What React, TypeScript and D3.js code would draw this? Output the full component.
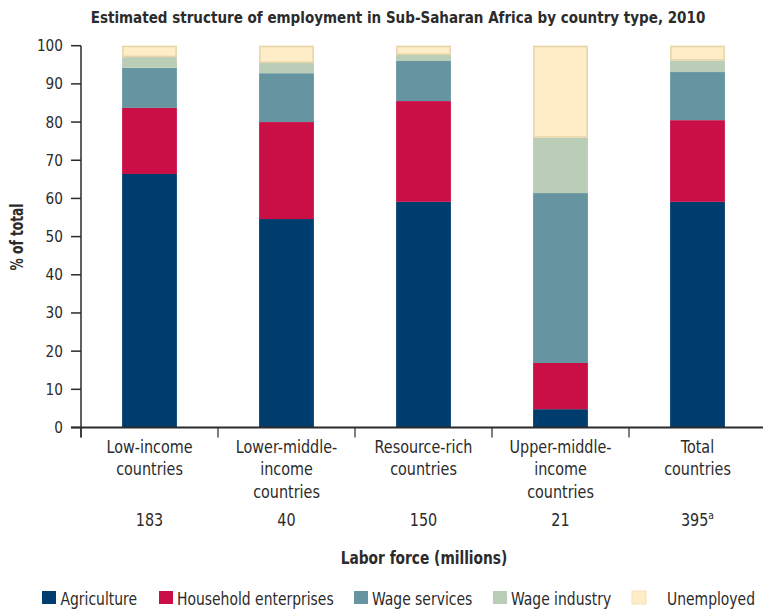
import React from "react";
import * as d3 from "d3";

const categories = ["Low-income", "Lower-middle-income", "Resource-rich", "Upper-middle-income", "Total"];
const categoryLabels = [
  ["Low-income", "countries"],
  ["Lower-middle-", "income", "countries"],
  ["Resource-rich", "countries"],
  ["Upper-middle-", "income", "countries"],
  ["Total", "countries"],
];
const laborForce = ["183", "40", "150", "21", "395"];
const laborSup = ["", "", "", "", "a"];

const seriesNames = ["Agriculture", "Household enterprises", "Wage services", "Wage industry", "Unemployed"];
const agriculture = [66.4, 54.6, 59.1, 4.8, 59.1];
const household = [17.3, 25.4, 26.4, 12.1, 21.4];
const wageServices = [10.5, 12.8, 10.5, 44.5, 12.6];
const wageIndustry = [2.8, 2.7, 1.6, 14.5, 3.0];
const unemployed = [3.0, 4.5, 2.4, 24.1, 3.9];
const yTicks = [0, 10, 20, 30, 40, 50, 60, 70, 80, 90, 100];

const colors = ["#003d6f", "#c90f45", "#6695a1", "#b9cdb7", "#feedc7"];
const FONT = "'DejaVu Sans Condensed', 'Liberation Sans Narrow', 'Liberation Sans', sans-serif";
const TEXT = "#2b2b2b";

function T(props: {
  x: number;
  y: number;
  size: number;
  sx?: number;
  anchor?: string;
  bold?: boolean;
  rotate?: number;
  children: any;
}) {
  const { x, y, size, sx = 1, anchor = "start", bold = false, rotate = 0, children } = props;
  return (
    <text
      transform={`translate(${x},${y}) rotate(${rotate}) scale(${sx},1)`}
      textAnchor={anchor}
      fontSize={size}
      fontWeight={bold ? "bold" : "normal"}
      fill={TEXT}
    >
      {children}
    </text>
  );
}

export default function App() {
  const W = 763, H = 609;
  const left = 81, right = 766, top = 45.7, bottom = 427.5;
  const x = d3.scaleBand<string>().domain(categories).range([left, right]).padding(0);
  const y = d3.scaleLinear().domain([0, 100]).range([bottom, top]);
  const barW = x.bandwidth() * 0.4;

  const table = categories.map((c, i) => ({
    cat: c,
    Agriculture: agriculture[i],
    "Household enterprises": household[i],
    "Wage services": wageServices[i],
    "Wage industry": wageIndustry[i],
    Unemployed: unemployed[i],
  }));
  const stacked = d3.stack<any>().keys(seriesNames)(table);

  const legendX = [42, 159, 354, 493, 632];
  const legendTextX = [60.5, 177, 372, 511, 667];

  return (
    <svg width={W} height={H} style={{ display: "block", position: "absolute", left: 0, top: 0 }} fontFamily={FONT}>
      <T x={398} y={23} size={16.5} sx={0.91} anchor="middle" bold>
        Estimated structure of employment in Sub-Saharan Africa by country type, 2010
      </T>
      <T x={23} y={237} size={17} sx={0.8} anchor="middle" bold rotate={-90}>
        % of total
      </T>

      {stacked.map((s, si) =>
        s.map((d, i) => {
          const x0 = (x(categories[i]) as number) + (x.bandwidth() - barW) / 2;
          const isU = seriesNames[si] === "Unemployed";
          return (
            <rect
              key={`${si}-${i}`}
              x={isU ? x0 + 0.75 : x0}
              y={isU ? y(d[1]) + 0.75 : y(d[1])}
              width={isU ? barW - 1.5 : barW}
              height={isU ? y(d[0]) - y(d[1]) - 1.5 : y(d[0]) - y(d[1])}
              fill={colors[si]}
              stroke={isU ? "#e6d3a7" : "none"}
              strokeWidth={isU ? 1.5 : 0}
            />
          );
        })
      )}

      {/* y axis */}
      <line x1={left} x2={left} y1={top} y2={bottom + 10} stroke={TEXT} strokeWidth={1.5} />
      {yTicks.map((t) => (
        <g key={t}>
          <line x1={left - 10} x2={left} y1={y(t)} y2={y(t)} stroke={TEXT} strokeWidth={1.5} />
          <T x={left - 18} y={y(t) + 5.5} size={16} sx={0.95} anchor="end">
            {t}
          </T>
        </g>
      ))}
      {/* x axis */}
      <line x1={left - 10} x2={right} y1={bottom} y2={bottom} stroke={TEXT} strokeWidth={2} />
      {categories.map((c) => (
        <line key={c} x1={x(c) as number} x2={x(c) as number} y1={bottom} y2={bottom + 10} stroke={TEXT} strokeWidth={1.2} />
      ))}
      {categories.map((c, i) => {
        const cx = (x(c) as number) + x.bandwidth() / 2;
        return (
          <g key={c + "lab"}>
            {categoryLabels[i].map((l, j) => (
              <T key={j} x={cx} y={452.5 + j * 22.5} size={17} sx={0.94} anchor="middle">
                {l}
              </T>
            ))}
            <T x={cx} y={526} size={17} sx={0.94} anchor="middle">
              {laborForce[i]}
              {laborSup[i] ? (
                <tspan fontSize={11} dy={-7}>{laborSup[i]}</tspan>
              ) : null}
            </T>
          </g>
        );
      })}
      <T x={424} y={564} size={17} sx={0.9} anchor="middle" bold>
        Labor force (millions)
      </T>

      {seriesNames.map((n, i) => (
        <g key={n}>
          <rect
            x={legendX[i]}
            y={591}
            width={14}
            height={13}
            fill={colors[i]}
            stroke={n === "Unemployed" ? "#f3e2b8" : "none"}
            strokeWidth={n === "Unemployed" ? 1 : 0}
          />
          <T x={legendTextX[i]} y={604.5} size={17} sx={0.91}>
            {n}
          </T>
        </g>
      ))}
    </svg>
  );
}
